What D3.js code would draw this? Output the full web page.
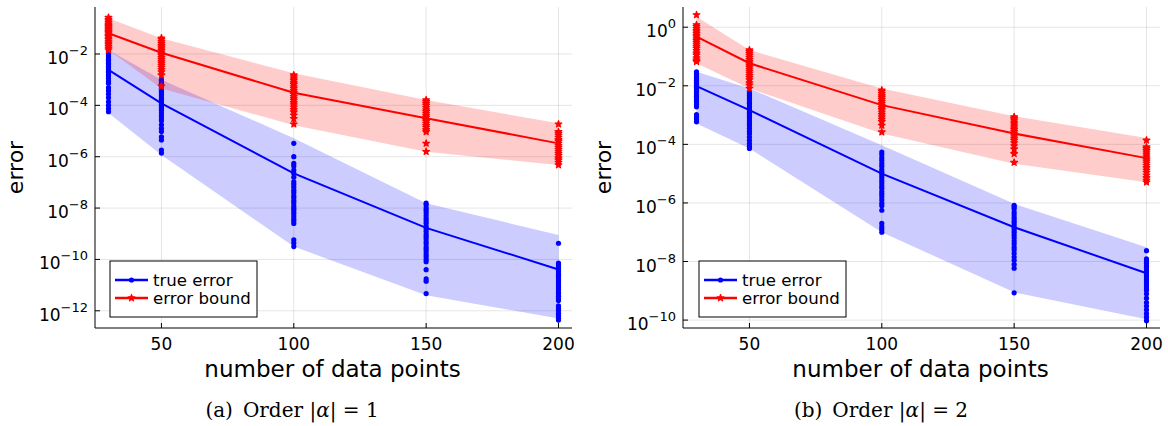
<!DOCTYPE html>
<html>
<head>
<meta charset="utf-8">
<script src="https://cdn.jsdelivr.net/npm/d3@7"></script>
<style>
  html, body { margin: 0; padding: 0; background: #fff; }
  svg { display: block; }
</style>
</head>
<body>
<svg id="chart" width="1168" height="426"></svg>
<script>
// data (values are log10 of the error)
const xCats = [30, 50, 100, 150, 200];
const xTicks = [50, 100, 150, 200];
const legendLabels = ["true error", "error bound"];
const captions = ["(a)", "(b)"];
const orders = ["1", "2"];

// panel (a): |alpha| = 1
const trueMeanA = [-2.62, -3.92, -6.65, -8.77, -10.39];
const trueLoA = [-4.3, -5.93, -9.5, -11.39, -12.3];
const trueHiA = [-1.84, -3.0, -5.28, -7.81, -9.05];
const boundMeanA = [-1.19, -1.95, -3.51, -4.5, -5.48];
const boundLoA = [-1.84, -3.34, -4.77, -5.81, -6.32];
const boundHiA = [-0.61, -1.39, -2.75, -3.79, -4.7];
const trueScatterA = [
  [-1.85, -1.9, -1.97, -2.03, -2.08, -2.14, -2.2, -2.24, -2.31, -2.36, -2.41, -2.49, -2.53, -2.6, -2.67, -2.71, -2.8, -2.86, -2.95, -3.06, -3.14, -3.31, -3.43, -3.56, -3.7, -3.86, -4.0, -4.13, -4.25],
  [-3.0, -3.05, -3.13, -3.17, -3.25, -3.31, -3.36, -3.43, -3.49, -3.58, -3.64, -3.73, -3.79, -3.87, -3.96, -4.03, -4.11, -4.19, -4.3, -4.41, -4.52, -4.6, -4.76, -4.9, -5.02, -5.23, -5.35, -5.74, -5.86],
  [-5.48, -6.0, -6.26, -6.36, -6.52, -6.65, -6.8, -6.98, -7.08, -7.19, -7.31, -7.4, -7.52, -7.6, -7.71, -7.8, -7.92, -8.01, -8.09, -8.2, -8.31, -8.42, -8.5, -8.6, -9.24, -9.36, -9.5],
  [-7.81, -7.88, -8.0, -8.08, -8.19, -8.3, -8.41, -8.5, -8.59, -8.71, -8.8, -8.9, -9.01, -9.1, -9.19, -9.31, -9.4, -9.52, -9.6, -9.7, -9.81, -9.9, -10.0, -10.09, -10.4, -10.76, -10.85, -11.33],
  [-9.37, -10.14, -10.21, -10.3, -10.39, -10.45, -10.55, -10.62, -10.7, -10.79, -10.86, -10.95, -11.03, -11.1, -11.17, -11.27, -11.33, -11.43, -11.52, -11.6, -11.81, -11.9, -11.99, -12.1, -12.19, -12.29, -12.36]
];
const boundScatterA = [
  [-0.58, -0.66, -0.71, -0.78, -0.84, -0.88, -0.93, -0.99, -1.03, -1.07, -1.13, -1.17, -1.22, -1.28, -1.32, -1.38, -1.43, -1.5, -1.57, -1.62, -1.7, -1.77, -1.84],
  [-1.38, -1.44, -1.52, -1.59, -1.66, -1.73, -1.8, -1.86, -1.93, -2.0, -2.06, -2.14, -2.21, -2.28, -2.35, -2.44, -2.52, -2.61, -2.7, -2.82, -3.25],
  [-2.82, -2.89, -2.97, -3.04, -3.12, -3.19, -3.28, -3.35, -3.43, -3.5, -3.57, -3.66, -3.74, -3.81, -3.9, -3.98, -4.07, -4.17, -4.26, -4.38, -4.52, -4.73],
  [-3.79, -3.85, -3.93, -4.0, -4.09, -4.18, -4.24, -4.32, -4.4, -4.47, -4.56, -4.62, -4.7, -4.79, -4.86, -4.95, -5.03, -5.48, -5.8],
  [-4.73, -5.03, -5.1, -5.17, -5.25, -5.34, -5.4, -5.48, -5.57, -5.64, -5.72, -5.8, -5.88, -5.96, -6.05, -6.13, -6.22, -6.32]
];

// panel (b): |alpha| = 2
const trueMeanB = [-2.01, -2.83, -5.0, -6.83, -8.4];
const trueLoB = [-3.29, -4.14, -7.0, -9.05, -9.97];
const trueHiB = [-1.52, -2.09, -4.03, -6.03, -7.51];
const boundMeanB = [-0.32, -1.23, -2.66, -3.63, -4.47];
const boundLoB = [-1.23, -2.09, -3.63, -4.66, -5.29];
const boundHiB = [0.36, -0.78, -2.09, -3.04, -3.78];
const trueScatterB = [
  [-1.52, -1.58, -1.63, -1.7, -1.76, -1.81, -1.88, -1.93, -1.99, -2.05, -2.11, -2.17, -2.22, -2.3, -2.36, -2.42, -2.5, -2.57, -2.64, -2.72, -2.98, -3.06, -3.13, -3.23],
  [-2.2, -2.27, -2.33, -2.4, -2.47, -2.55, -2.6, -2.68, -2.75, -2.83, -2.9, -2.97, -3.05, -3.12, -3.2, -3.28, -3.36, -3.45, -3.55, -3.64, -3.75, -3.86, -3.97, -4.06, -4.14],
  [-4.26, -4.35, -4.46, -4.55, -4.66, -4.75, -4.86, -4.95, -5.04, -5.13, -5.23, -5.32, -5.42, -5.5, -5.61, -5.7, -5.8, -5.9, -6.01, -6.1, -6.25, -6.7, -6.82, -6.91, -7.0],
  [-6.08, -6.14, -6.2, -6.31, -6.4, -6.5, -6.58, -6.66, -6.75, -6.84, -6.92, -7.0, -7.1, -7.2, -7.3, -7.4, -7.52, -7.61, -7.73, -7.85, -7.96, -8.1, -8.23, -9.07],
  [-7.63, -7.91, -7.98, -8.06, -8.14, -8.2, -8.29, -8.36, -8.45, -8.52, -8.6, -8.67, -8.75, -8.84, -8.9, -8.98, -9.1, -9.25, -9.4, -9.52, -9.65, -9.78, -9.9, -10.02]
];
const boundScatterB = [
  [0.42, 0.08, 0.02, -0.05, -0.11, -0.16, -0.22, -0.28, -0.33, -0.4, -0.46, -0.52, -0.58, -0.65, -0.72, -0.8, -0.88, -0.95, -1.05, -1.12, -1.18],
  [-0.78, -0.84, -0.9, -0.96, -1.03, -1.1, -1.16, -1.22, -1.29, -1.36, -1.43, -1.5, -1.57, -1.65, -1.72, -1.8, -1.9, -1.98, -2.09],
  [-2.15, -2.2, -2.27, -2.34, -2.4, -2.47, -2.54, -2.61, -2.68, -2.75, -2.82, -2.9, -2.98, -3.06, -3.14, -3.22, -3.35, -3.58],
  [-3.06, -3.11, -3.17, -3.24, -3.3, -3.37, -3.44, -3.5, -3.57, -3.64, -3.71, -3.79, -3.86, -3.95, -4.05, -4.16, -4.32, -4.62],
  [-3.86, -4.09, -4.15, -4.22, -4.29, -4.36, -4.43, -4.5, -4.57, -4.64, -4.72, -4.8, -4.88, -4.96, -5.05, -5.14, -5.22, -5.29]
];

const BLUE = "#0000ff", RED = "#ff0000";
const FONT = "'DejaVu Sans', sans-serif";

const panels = [
  {
    left: 95, right: 572, top: 7, bottom: 328, yExp: [-12.67, -0.17], yTicks: [-2, -4, -6, -8, -10, -12],
    capX: 292, legendX: 110,
    series: [
      {mean: trueMeanA, lo: trueLoA, hi: trueHiA, pts: trueScatterA, color: BLUE},
      {mean: boundMeanA, lo: boundLoA, hi: boundHiA, pts: boundScatterA, color: RED}
    ]
  },
  {
    left: 683, right: 1160, top: 7, bottom: 328, yExp: [-10.27, 0.69], yTicks: [0, -2, -4, -6, -8, -10],
    capX: 881, legendX: 699,
    series: [
      {mean: trueMeanB, lo: trueLoB, hi: trueHiB, pts: trueScatterB, color: BLUE},
      {mean: boundMeanB, lo: boundLoB, hi: boundHiB, pts: boundScatterB, color: RED}
    ]
  }
];

const svg = d3.select("#chart");
const pow = v => Math.pow(10, v);

function marker(sel, color, cx, cy) {
  if (color === BLUE) {
    sel.append("circle").attr("cx", cx).attr("cy", cy).attr("r", 2.6).attr("fill", color);
  } else {
    sel.append("path").attr("d", d3.symbol(d3.symbolStar, 14)())
      .attr("transform", `translate(${cx},${cy})`).attr("fill", color)
      .attr("stroke", color).attr("stroke-width", 1.2).attr("stroke-linejoin", "round");
  }
}

panels.forEach((p, pi) => {
  const x = d3.scaleLinear().domain([24.9, 205.1]).range([p.left, p.right]);
  const y = d3.scaleLog().domain([pow(p.yExp[0]), pow(p.yExp[1])]).range([p.bottom, p.top]);
  const g = svg.append("g");

  // grid
  g.append("g").selectAll("line").data(xTicks).join("line")
    .attr("x1", d => x(d)).attr("x2", d => x(d)).attr("y1", p.top).attr("y2", p.bottom)
    .attr("stroke", "#000").attr("stroke-opacity", 0.1).attr("stroke-width", 1);
  g.append("g").selectAll("line").data(p.yTicks).join("line")
    .attr("x1", p.left).attr("x2", p.right).attr("y1", d => y(pow(d))).attr("y2", d => y(pow(d)))
    .attr("stroke", "#000").attr("stroke-opacity", 0.1).attr("stroke-width", 1);

  const clip = `clip${pi}`;
  svg.append("clipPath").attr("id", clip).append("rect")
    .attr("x", p.left).attr("y", p.top).attr("width", p.right - p.left).attr("height", p.bottom - p.top);
  const plot = g.append("g").attr("clip-path", `url(#${clip})`);

  p.series.forEach(s => {
    const area = d3.area()
      .x((d, i) => x(xCats[i]))
      .y0((d, i) => y(pow(s.lo[i])))
      .y1((d, i) => y(pow(s.hi[i])));
    plot.append("path").attr("d", area(xCats)).attr("fill", s.color).attr("fill-opacity", 0.2);

    const line = d3.line().x((d, i) => x(xCats[i])).y(d => y(pow(d)));
    plot.append("path").attr("d", line(s.mean)).attr("fill", "none")
      .attr("stroke", s.color).attr("stroke-width", 2);

    s.pts.forEach((col, i) => {
      col.forEach(v => marker(plot, s.color, x(xCats[i]), y(pow(v))));
    });
  });

  // axes spines
  g.append("line").attr("x1", p.left).attr("x2", p.left).attr("y1", p.top).attr("y2", p.bottom)
    .attr("stroke", "#000").attr("stroke-width", 1);
  g.append("line").attr("x1", p.left).attr("x2", p.right).attr("y1", p.bottom).attr("y2", p.bottom)
    .attr("stroke", "#000").attr("stroke-width", 1);

  // x ticks
  xTicks.forEach(t => {
    g.append("line").attr("x1", x(t)).attr("x2", x(t)).attr("y1", p.bottom).attr("y2", p.bottom - 5)
      .attr("stroke", "#000");
    g.append("text").attr("x", x(t)).attr("y", p.bottom + 22).attr("text-anchor", "middle")
      .attr("font-family", FONT).attr("font-size", 17).attr("fill", "#000").text(t);
  });

  // y ticks
  p.yTicks.forEach(t => {
    const yy = y(pow(t));
    g.append("line").attr("x1", p.left).attr("x2", p.left + 5).attr("y1", yy).attr("y2", yy)
      .attr("stroke", "#000");
    const txt = g.append("text").attr("x", p.left - 7).attr("y", yy + 10).attr("text-anchor", "end")
      .attr("font-family", FONT).attr("font-size", 17).attr("fill", "#000");
    txt.append("tspan").text("10");
    txt.append("tspan").attr("dy", -9).attr("font-size", 13).text(t < 0 ? "\u2212" + (-t) : String(t));
  });

  // axis titles
  g.append("text").attr("x", (p.left + p.right) / 2 - 1).attr("y", p.bottom + 49).attr("text-anchor", "middle")
    .attr("font-family", FONT).attr("font-size", 23).attr("fill", "#000").text("number of data points");
  g.append("text").attr("transform", `translate(${p.left - 72},${(p.top + p.bottom) / 2}) rotate(-90)`)
    .attr("text-anchor", "middle").attr("font-family", FONT).attr("font-size", 22).attr("fill", "#000")
    .text("error");

  // legend
  const lx = p.legendX, ly = 261;
  const lg = g.append("g");
  lg.append("rect").attr("x", lx).attr("y", ly).attr("width", 147).attr("height", 56)
    .attr("fill", "#fff").attr("stroke", "#000").attr("stroke-width", 1);
  p.series.forEach((s, i) => {
    const yy = ly + 19 + i * 18;
    lg.append("line").attr("x1", lx + 5).attr("x2", lx + 38).attr("y1", yy).attr("y2", yy)
      .attr("stroke", s.color).attr("stroke-width", 2.5);
    marker(lg, s.color, lx + 21.5, yy);
    lg.append("text").attr("x", lx + 43).attr("y", yy + 6).attr("font-family", FONT).attr("font-size", 16.6)
      .attr("fill", "#000").text(legendLabels[i]);
  });

  // caption
  const cap = svg.append("text").attr("x", p.capX).attr("y", 417).attr("text-anchor", "middle")
    .attr("font-family", "'DejaVu Serif', serif").attr("font-size", 20).attr("fill", "#000");
  cap.append("tspan").text(captions[pi] + "\u2002Order |");
  cap.append("tspan").attr("font-style", "italic").text("\u03b1");
  cap.append("tspan").text("| = " + orders[pi]);
});
</script>
</body>
</html>
